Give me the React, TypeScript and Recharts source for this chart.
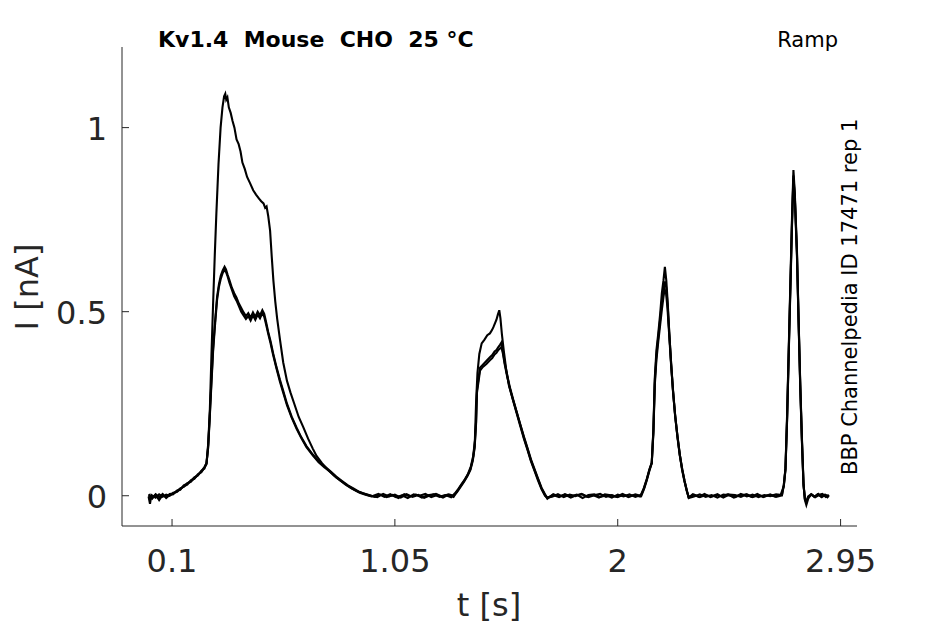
import { Line, LineChart, XAxis, YAxis } from 'recharts';

type Row = [number, number];

const xTicks = [0.1, 1.05, 2, 2.95];
const yTicks = [0, 0.5, 1];

const titleText = 'Kv1.4  Mouse  CHO  25 °C';
const protocolText = 'Ramp';
const sourceText = 'BBP Channelpedia ID 17471 rep 1';

// sweep with the tall first peak
const sweepA: Row[] = [
  [0.000, 0.004], [0.015, -0.006], [0.030, 0.003], [0.045, -0.012], [0.060, 0.002], [0.075, -0.004],
  [0.090, 0.005], [0.105, 0.006], [0.120, 0.012], [0.135, 0.020], [0.150, 0.024], [0.165, 0.034],
  [0.180, 0.038], [0.195, 0.048], [0.210, 0.056], [0.225, 0.066], [0.238, 0.078], [0.247, 0.088],
  [0.254, 0.140], [0.261, 0.230], [0.268, 0.380], [0.275, 0.520], [0.282, 0.650], [0.289, 0.767],
  [0.298, 0.900], [0.307, 1.000], [0.315, 1.055], [0.322, 1.085], [0.327, 1.092], [0.331, 1.076],
  [0.336, 1.082], [0.342, 1.055], [0.350, 1.040], [0.358, 1.018], [0.366, 1.000], [0.375, 0.968],
  [0.384, 0.955], [0.392, 0.935], [0.400, 0.905], [0.410, 0.888], [0.420, 0.866], [0.432, 0.850],
  [0.446, 0.830], [0.458, 0.818], [0.470, 0.808], [0.480, 0.800], [0.490, 0.794], [0.497, 0.782],
  [0.503, 0.786], [0.510, 0.760], [0.518, 0.720], [0.525, 0.650], [0.532, 0.585], [0.540, 0.528],
  [0.548, 0.482], [0.560, 0.425], [0.574, 0.362], [0.590, 0.312], [0.605, 0.280], [0.620, 0.252],
  [0.640, 0.214], [0.659, 0.187], [0.680, 0.155], [0.700, 0.128], [0.716, 0.108], [0.740, 0.088],
  [0.765, 0.070], [0.790, 0.055], [0.815, 0.042], [0.840, 0.030], [0.865, 0.020], [0.890, 0.012],
  [0.915, 0.006], [0.940, 0.001], [0.965, -0.003],
  [0.990, 0.003], [1.015, -0.004], [1.040, 0.002], [1.065, -0.006], [1.090, 0.004], [1.115, -0.002],
  [1.140, 0.003], [1.165, -0.005], [1.190, 0.001], [1.215, 0.004], [1.240, -0.003], [1.265, 0.002],
  [1.290, -0.004], [1.305, 0.006],
  [1.320, 0.018], [1.335, 0.032], [1.350, 0.046], [1.362, 0.060], [1.374, 0.080], [1.384, 0.108],
  [1.391, 0.150], [1.396, 0.250], [1.402, 0.333], [1.410, 0.385], [1.420, 0.414], [1.432, 0.424],
  [1.444, 0.436], [1.455, 0.441], [1.464, 0.450], [1.470, 0.458], [1.477, 0.469], [1.483, 0.478],
  [1.489, 0.492], [1.495, 0.504], [1.500, 0.482], [1.506, 0.440], [1.514, 0.395], [1.524, 0.345],
  [1.536, 0.300], [1.550, 0.268], [1.565, 0.236], [1.583, 0.197], [1.600, 0.161], [1.615, 0.130],
  [1.630, 0.099], [1.645, 0.073], [1.660, 0.047], [1.675, 0.022], [1.690, 0.004], [1.700, -0.006],
  [1.725, 0.002], [1.750, -0.004], [1.775, 0.004], [1.800, -0.002], [1.825, 0.003], [1.850, -0.006],
  [1.875, 0.002], [1.900, 0.004], [1.925, -0.003], [1.950, 0.001], [1.975, -0.005], [2.000, 0.003],
  [2.025, -0.002], [2.050, 0.004], [2.075, -0.003], [2.100, 0.002],
  [2.112, 0.022], [2.124, 0.046], [2.135, 0.072], [2.145, 0.090], [2.152, 0.180], [2.158, 0.320],
  [2.165, 0.395], [2.173, 0.442], [2.181, 0.495], [2.188, 0.550], [2.195, 0.585], [2.201, 0.622],
  [2.207, 0.585], [2.213, 0.525], [2.220, 0.440], [2.228, 0.355], [2.236, 0.280], [2.245, 0.215],
  [2.255, 0.160], [2.265, 0.110], [2.275, 0.072], [2.285, 0.040], [2.295, 0.012], [2.303, -0.006],
  [2.325, -0.002], [2.350, 0.004], [2.375, -0.003], [2.400, 0.002], [2.425, -0.005], [2.450, 0.003],
  [2.475, 0.001], [2.500, -0.004], [2.525, 0.005], [2.550, -0.002], [2.575, 0.003], [2.600, -0.004],
  [2.625, 0.002], [2.650, -0.001], [2.675, 0.004], [2.700, 0.002],
  [2.708, 0.030], [2.715, 0.075], [2.722, 0.220], [2.729, 0.400], [2.736, 0.580], [2.743, 0.757],
  [2.749, 0.885], [2.755, 0.820], [2.764, 0.667], [2.771, 0.480], [2.778, 0.306], [2.785, 0.160],
  [2.792, 0.034], [2.798, -0.012], [2.804, -0.025], [2.812, -0.008], [2.825, 0.004], [2.840, -0.003],
  [2.855, 0.005], [2.870, -0.004], [2.885, 0.003], [2.900, -0.002],
];

const sweepB: Row[] = [
  [0.000, -0.002], [0.006, -0.022], [0.012, 0.002], [0.030, -0.005], [0.045, 0.004], [0.060, -0.003],
  [0.075, 0.003], [0.090, 0.000], [0.105, 0.008], [0.120, 0.010], [0.135, 0.018], [0.150, 0.026],
  [0.165, 0.030], [0.180, 0.042], [0.195, 0.046], [0.210, 0.058], [0.225, 0.064], [0.238, 0.076],
  [0.247, 0.086], [0.254, 0.135], [0.261, 0.220], [0.268, 0.314], [0.275, 0.400], [0.283, 0.470],
  [0.292, 0.540], [0.300, 0.575], [0.308, 0.598], [0.316, 0.612], [0.324, 0.622], [0.330, 0.615],
  [0.337, 0.600], [0.345, 0.585], [0.355, 0.565], [0.365, 0.550], [0.375, 0.538], [0.385, 0.522],
  [0.395, 0.510], [0.405, 0.498], [0.415, 0.488], [0.425, 0.496], [0.435, 0.484], [0.445, 0.498],
  [0.455, 0.486], [0.465, 0.500], [0.475, 0.490], [0.485, 0.504], [0.493, 0.494], [0.500, 0.475],
  [0.510, 0.445], [0.520, 0.420], [0.531, 0.387], [0.545, 0.350], [0.560, 0.315], [0.574, 0.285],
  [0.590, 0.250], [0.610, 0.215], [0.631, 0.185], [0.650, 0.160], [0.673, 0.135], [0.700, 0.112],
  [0.725, 0.093], [0.750, 0.080], [0.773, 0.068], [0.800, 0.052], [0.825, 0.040], [0.850, 0.028],
  [0.875, 0.019], [0.900, 0.010], [0.925, 0.005], [0.950, 0.000],
  [0.975, -0.004], [1.000, 0.005], [1.025, -0.002], [1.050, 0.003], [1.075, -0.005], [1.100, 0.004],
  [1.125, -0.003], [1.150, 0.002], [1.175, -0.006], [1.200, 0.001], [1.225, 0.005], [1.250, -0.002],
  [1.275, 0.003], [1.300, -0.003],
  [1.315, 0.012], [1.330, 0.026], [1.345, 0.040], [1.360, 0.056], [1.372, 0.072], [1.382, 0.098],
  [1.390, 0.135], [1.396, 0.200], [1.400, 0.287], [1.413, 0.348], [1.425, 0.356], [1.440, 0.366],
  [1.455, 0.376], [1.465, 0.382], [1.475, 0.392], [1.483, 0.396], [1.491, 0.404], [1.498, 0.410],
  [1.504, 0.416], [1.510, 0.395], [1.518, 0.362], [1.528, 0.330], [1.540, 0.295], [1.555, 0.260],
  [1.570, 0.226], [1.585, 0.192], [1.600, 0.158], [1.615, 0.128], [1.630, 0.096], [1.645, 0.070],
  [1.660, 0.045], [1.675, 0.020], [1.690, 0.002], [1.700, -0.008],
  [1.725, 0.004], [1.750, -0.002], [1.775, 0.003], [1.800, -0.005], [1.825, 0.002], [1.850, 0.004],
  [1.875, -0.004], [1.900, 0.001], [1.925, 0.005], [1.950, -0.003], [1.975, 0.002], [2.000, -0.004],
  [2.025, 0.003], [2.050, -0.002], [2.075, 0.004], [2.100, -0.001],
  [2.112, 0.018], [2.124, 0.042], [2.135, 0.068], [2.145, 0.088], [2.152, 0.170], [2.158, 0.300],
  [2.165, 0.370], [2.173, 0.420], [2.181, 0.465], [2.188, 0.505], [2.195, 0.540], [2.200, 0.560],
  [2.206, 0.550], [2.212, 0.510], [2.219, 0.440], [2.227, 0.360], [2.235, 0.290], [2.244, 0.222],
  [2.254, 0.162], [2.264, 0.112], [2.274, 0.072], [2.284, 0.040], [2.294, 0.014], [2.302, -0.004],
  [2.325, 0.003], [2.350, -0.004], [2.375, 0.002], [2.400, -0.002], [2.425, 0.004], [2.450, -0.005],
  [2.475, 0.003], [2.500, 0.002], [2.525, -0.003], [2.550, 0.004], [2.575, -0.004], [2.600, 0.001],
  [2.625, -0.002], [2.650, 0.004], [2.675, -0.003], [2.700, 0.001],
  [2.708, 0.028], [2.715, 0.072], [2.722, 0.210], [2.729, 0.390], [2.736, 0.570], [2.743, 0.745],
  [2.749, 0.870], [2.755, 0.812], [2.764, 0.660], [2.771, 0.475], [2.778, 0.300], [2.785, 0.155],
  [2.792, 0.030], [2.798, -0.010], [2.804, -0.018], [2.812, -0.004], [2.827, 0.003], [2.842, -0.004],
  [2.857, 0.002], [2.872, 0.005], [2.887, -0.003], [2.900, 0.002],
];

const sweepC: Row[] = [
  [0.000, 0.001], [0.015, -0.008], [0.030, 0.004], [0.045, -0.004], [0.060, 0.005], [0.075, -0.006],
  [0.090, 0.002], [0.105, 0.004], [0.120, 0.014], [0.135, 0.016], [0.150, 0.028], [0.165, 0.033],
  [0.180, 0.040], [0.195, 0.050], [0.210, 0.055], [0.225, 0.068], [0.238, 0.074], [0.247, 0.090],
  [0.254, 0.130], [0.261, 0.215], [0.268, 0.305], [0.275, 0.392], [0.283, 0.462], [0.292, 0.532],
  [0.300, 0.568], [0.308, 0.590], [0.316, 0.605], [0.324, 0.614], [0.330, 0.608], [0.337, 0.596],
  [0.345, 0.578], [0.355, 0.560], [0.365, 0.542], [0.375, 0.530], [0.385, 0.515], [0.395, 0.500],
  [0.405, 0.490], [0.415, 0.480], [0.425, 0.488], [0.435, 0.476], [0.445, 0.490], [0.455, 0.478],
  [0.465, 0.492], [0.475, 0.482], [0.485, 0.496], [0.493, 0.486], [0.500, 0.468], [0.510, 0.440],
  [0.520, 0.414], [0.531, 0.382], [0.545, 0.346], [0.560, 0.310], [0.574, 0.280], [0.590, 0.246],
  [0.610, 0.212], [0.631, 0.182], [0.650, 0.158], [0.673, 0.132], [0.700, 0.110], [0.725, 0.091],
  [0.750, 0.077], [0.773, 0.066], [0.800, 0.050], [0.825, 0.038], [0.850, 0.027], [0.875, 0.017],
  [0.900, 0.008], [0.925, 0.003], [0.950, -0.002],
  [0.980, 0.005], [1.005, -0.003], [1.030, 0.004], [1.055, -0.004], [1.080, 0.001], [1.105, -0.006],
  [1.130, 0.004], [1.155, 0.000], [1.180, 0.005], [1.205, -0.004], [1.230, 0.002], [1.255, -0.005],
  [1.280, 0.004], [1.300, 0.000],
  [1.315, 0.010], [1.330, 0.024], [1.345, 0.038], [1.360, 0.054], [1.372, 0.070], [1.382, 0.095],
  [1.390, 0.130], [1.396, 0.195], [1.400, 0.280], [1.413, 0.340], [1.425, 0.350], [1.440, 0.358],
  [1.455, 0.368], [1.465, 0.374], [1.475, 0.384], [1.483, 0.388], [1.491, 0.396], [1.498, 0.400],
  [1.504, 0.404], [1.510, 0.388], [1.518, 0.358], [1.528, 0.326], [1.540, 0.292], [1.555, 0.256],
  [1.570, 0.222], [1.585, 0.188], [1.600, 0.155], [1.615, 0.125], [1.630, 0.094], [1.645, 0.068],
  [1.660, 0.042], [1.675, 0.018], [1.690, 0.000], [1.700, -0.005],
  [1.720, -0.003], [1.745, 0.004], [1.770, -0.004], [1.795, 0.003], [1.820, -0.001], [1.845, 0.005],
  [1.870, -0.003], [1.895, 0.002], [1.920, -0.005], [1.945, 0.004], [1.970, 0.001], [1.995, -0.003],
  [2.020, 0.005], [2.045, -0.004], [2.070, 0.002], [2.095, -0.002],
  [2.112, 0.020], [2.124, 0.044], [2.135, 0.070], [2.145, 0.089], [2.152, 0.175], [2.158, 0.310],
  [2.165, 0.382], [2.173, 0.432], [2.181, 0.480], [2.188, 0.525], [2.195, 0.560], [2.201, 0.582],
  [2.207, 0.565], [2.213, 0.515], [2.220, 0.438], [2.228, 0.356], [2.236, 0.284], [2.245, 0.218],
  [2.255, 0.160], [2.265, 0.110], [2.275, 0.071], [2.285, 0.040], [2.295, 0.013], [2.303, -0.005],
  [2.320, 0.004], [2.345, -0.003], [2.370, 0.005], [2.395, -0.004], [2.420, 0.002], [2.445, -0.002],
  [2.470, 0.004], [2.495, -0.005], [2.520, 0.001], [2.545, 0.003], [2.570, -0.003], [2.595, 0.005],
  [2.620, -0.004], [2.645, 0.002], [2.670, -0.002], [2.695, 0.003],
  [2.708, 0.026], [2.715, 0.070], [2.722, 0.205], [2.729, 0.385], [2.736, 0.560], [2.743, 0.735],
  [2.749, 0.862], [2.755, 0.805], [2.764, 0.652], [2.771, 0.470], [2.778, 0.296], [2.785, 0.150],
  [2.792, 0.028], [2.798, -0.008], [2.804, -0.015], [2.812, -0.002], [2.824, 0.004], [2.838, -0.003],
  [2.852, 0.004], [2.866, -0.002], [2.880, 0.003], [2.894, -0.004], [2.900, 0.001],
];

const sweeps = [sweepA, sweepB, sweepC].map((rows) => rows.map(([t, i]) => ({ t, i })));

const axisColor = '#262626';
const font = '"DejaVu Sans", sans-serif';

const XTick = (props: any) => {
  const { x, y, payload } = props;
  return (
    <g>
      <line x1={x} y1={y} x2={x} y2={y - 7} stroke={axisColor} strokeWidth={1} />
      <text x={x} y={y + 46} textAnchor="middle" fontSize={32} fontFamily={font} fill={axisColor}>
        {String(payload.value)}
      </text>
    </g>
  );
};

const YTick = (props: any) => {
  const { x, y, payload } = props;
  return (
    <g>
      <line x1={x} y1={y} x2={x + 7} y2={y} stroke={axisColor} strokeWidth={1} />
      <text x={x - 15} y={y + 12} textAnchor="end" fontSize={32} fontFamily={font} fill={axisColor}>
        {String(payload.value)}
      </text>
    </g>
  );
};

export default function App() {
  return (
    <div style={{ position: 'fixed', left: 0, top: 0, width: 945, height: 624, background: '#fff' }}>
      <LineChart width={945} height={624} margin={{ top: 47, right: 88, bottom: 0, left: 0 }}>
        <XAxis
          dataKey="t"
          type="number"
          domain={[-0.1133, 3.02]}
          allowDataOverflow
          ticks={xTicks}
          interval={0}
          height={98}
          axisLine={{ stroke: axisColor, strokeWidth: 1 }}
          tickLine={false}
          tickSize={0}
          tickMargin={0}
          tick={(p: any) => <XTick {...p} />}
        />
        <YAxis
          type="number"
          domain={[-0.0822, 1.219]}
          allowDataOverflow
          ticks={yTicks}
          interval={0}
          width={122}
          axisLine={{ stroke: axisColor, strokeWidth: 1 }}
          tickLine={false}
          tickSize={0}
          tickMargin={0}
          tick={(p: any) => <YTick {...p} />}
        />
        {sweeps.map((data, k) => (
          <Line
            key={k}
            data={data}
            dataKey="i"
            type="linear"
            stroke="#000"
            strokeWidth={2.1}
            dot={false}
            activeDot={false}
            isAnimationActive={false}
          />
        ))}
      </LineChart>
      <svg width={945} height={624} style={{ position: 'absolute', left: 0, top: 0, pointerEvents: 'none' }}>
        <text x={158} y={47} fontSize={22} fontWeight="bold" fontFamily={font} fill="#000" xmlSpace="preserve" style={{ whiteSpace: 'pre' }}>
          {titleText}
        </text>
        <text x={838} y={47} textAnchor="end" fontSize={21} fontFamily={font} fill="#000">
          {protocolText}
        </text>
        <text transform="translate(857, 475) rotate(-90)" fontSize={21} fontFamily={font} fill="#000">
          {sourceText}
        </text>
        <text x={489} y={616} textAnchor="middle" fontSize={32} fontFamily={font} fill={axisColor}>
          t [s]
        </text>
        <text transform="translate(38, 287) rotate(-90)" textAnchor="middle" fontSize={32} fontFamily={font} fill={axisColor}>
          I [nA]
        </text>
      </svg>
    </div>
  );
}
